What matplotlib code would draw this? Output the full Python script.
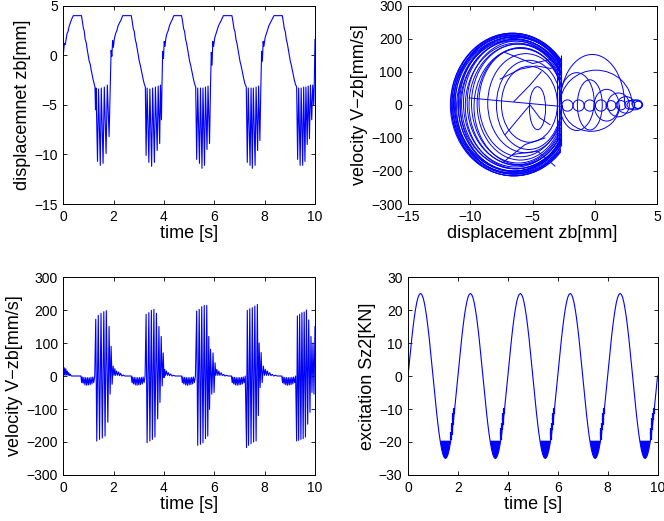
import numpy as np
import matplotlib
matplotlib.use('Agg')
import matplotlib.pyplot as plt
from matplotlib.patches import Ellipse, Arc, Rectangle

plt.rcParams['font.family'] = ['Liberation Sans', 'DejaVu Sans']

# ---------------- data: displacement zb [mm] vs time [s] (vertices) -------------
disp_p1 = [(0.00, 0.0), (0.03, 0.9), (0.05, 1.2), (0.08, 1.1), (0.11, 1.6), (0.15, 2.2), (0.19, 2.4), (0.23, 2.9),
           (0.27, 3.2), (0.31, 3.5), (0.36, 3.8), (0.40, 4.0), (0.72, 4.0), (0.76, 3.4), (0.80, 2.7), (0.83, 2.5),
           (0.87, 1.6), (0.91, 1.3), (0.95, 0.6), (0.99, 0.0), (1.03, -0.6), (1.07, -0.9), (1.11, -1.5), (1.15, -2.0),
           (1.19, -2.5), (1.23, -2.9), (1.26, -3.2), (1.28, -5.5), (1.30, -3.3), (1.36, -10.7), (1.40, -3.4),
           (1.47, -11.1), (1.51, -3.3), (1.58, -10.9), (1.63, -3.2), (1.70, -9.9), (1.75, -3.0), (1.82, -8.2), (1.87, -3.0)]
disp_p2 = [(1.90, 0.5), (1.93, -0.1), (1.96, 1.5), (1.99, 0.8), (2.03, 1.7), (2.08, 2.2), (2.13, 2.5), (2.18, 3.0),
           (2.24, 3.3), (2.30, 3.6), (2.36, 4.0), (2.70, 4.0), (2.74, 3.4), (2.78, 2.7), (2.82, 2.4), (2.86, 1.6),
           (2.90, 1.2), (2.94, 0.6), (2.98, 0.0), (3.02, -0.6), (3.06, -1.0), (3.10, -1.5), (3.14, -2.0), (3.18, -2.5),
           (3.22, -2.9), (3.26, -3.2), (3.29, -10.1), (3.33, -3.3), (3.40, -10.8), (3.44, -3.4), (3.51, -11.2),
           (3.55, -3.3), (3.62, -10.8), (3.66, -3.2), (3.73, -9.6), (3.77, -3.1), (3.83, -8.9), (3.86, -3.0),
           (3.90, -6.5), (3.92, -3.0)]
disp_p3 = [(3.95, 0.4), (3.98, -0.3), (4.01, 1.4), (4.04, 0.9), (4.08, 1.8), (4.12, 2.2), (4.17, 2.5), (4.22, 3.0),
           (4.27, 3.3), (4.33, 3.6), (4.39, 4.0), (4.70, 4.0), (4.74, 3.4), (4.78, 2.7), (4.82, 2.4), (4.86, 1.6),
           (4.90, 1.2), (4.94, 0.6), (4.98, 0.0), (5.02, -0.6), (5.06, -1.0), (5.10, -1.5), (5.14, -2.0), (5.18, -2.5),
           (5.22, -2.9), (5.26, -3.2), (5.30, -10.5), (5.34, -3.3), (5.41, -10.9), (5.45, -3.3), (5.51, -11.4),
           (5.55, -3.3), (5.61, -11.1), (5.65, -3.2), (5.71, -9.5), (5.75, -3.1), (5.81, -8.9), (5.85, -3.0)]
disp_p4 = [(5.88, 0.3), (5.91, -1.0), (5.94, 1.4), (5.97, 0.9), (6.02, 1.8), (6.07, 2.2), (6.12, 2.6), (6.17, 3.0),
           (6.23, 3.3), (6.29, 3.6), (6.36, 4.0), (6.70, 4.0), (6.74, 3.4), (6.78, 2.7), (6.82, 2.4), (6.86, 1.6),
           (6.90, 1.2), (6.94, 0.6), (6.98, 0.0), (7.02, -0.6), (7.06, -1.0), (7.10, -1.5), (7.14, -2.0), (7.18, -2.5),
           (7.22, -2.9), (7.27, -3.2), (7.31, -10.8), (7.35, -3.3), (7.42, -11.1), (7.46, -3.3), (7.51, -11.4),
           (7.55, -3.3), (7.62, -11.1), (7.66, -3.2), (7.72, -9.6), (7.76, -3.1), (7.81, -8.6), (7.85, -3.0)]
disp_p5 = [(7.88, 0.4), (7.91, -0.6), (7.94, 1.4), (7.97, 0.9), (8.02, 1.8), (8.07, 2.2), (8.12, 2.6), (8.17, 3.0),
           (8.23, 3.3), (8.29, 3.6), (8.37, 4.0), (8.70, 4.0), (8.74, 3.4), (8.78, 2.7), (8.82, 2.4), (8.86, 1.6),
           (8.90, 1.2), (8.94, 0.6), (8.98, 0.0), (9.02, -0.6), (9.06, -1.0), (9.10, -1.5), (9.14, -2.0), (9.18, -2.5),
           (9.22, -2.9), (9.27, -3.2), (9.31, -10.5), (9.35, -3.3), (9.41, -11.1), (9.45, -3.3), (9.51, -11.1),
           (9.55, -3.2), (9.60, -10.7), (9.64, -3.2), (9.69, -9.0), (9.73, -3.1), (9.78, -8.4), (9.82, -3.0),
           (9.87, -6.5), (9.91, -3.0), (9.95, -5.0), (9.97, -3.0), (10.0, 1.6)]

# ---------------- data: velocity V-zb [mm/s] vs time [s] ----------------
vel_p1 = [(0.00, 20), (0.02, 5), (0.04, 25), (0.07, 2), (0.10, 22), (0.13, 3), (0.16, 15), (0.19, 2), (0.22, 10),
          (0.25, 1), (0.28, 5), (0.32, 0), (0.70, 0), (0.73, -20), (0.75, -3), (0.79, -22), (0.82, -4), (0.86, -27),
          (0.89, -5), (0.93, -28), (0.96, -5), (1.00, -27), (1.03, -5), (1.07, -26), (1.10, -4), (1.14, -24),
          (1.17, -3), (1.21, -20), (1.25, 0), (1.29, 172), (1.33, -197), (1.39, 184), (1.44, -192), (1.50, 190),
          (1.55, -188), (1.61, 195), (1.66, -182), (1.71, 198), (1.77, -140), (1.82, 150), (1.86, -55), (1.90, 90),
          (1.94, -25), (1.98, 30), (2.02, 2), (2.05, 22), (2.08, 2), (2.12, 15), (2.16, 2), (2.20, 12), (2.24, 1),
          (2.28, 8), (2.33, 0), (2.38, 3), (2.45, 0)]
vel_p2 = [(2.70, 0), (2.73, -20), (2.75, -3), (2.79, -24), (2.82, -4), (2.86, -27), (2.89, -5), (2.93, -28),
          (2.96, -5), (3.00, -27), (3.03, -5), (3.07, -26), (3.10, -4), (3.14, -24), (3.17, -3), (3.21, -20),
          (3.25, 0), (3.29, 187), (3.33, -202), (3.40, 192), (3.44, -197), (3.50, 199), (3.54, -192), (3.60, 202),
          (3.64, -185), (3.70, 190), (3.75, -130), (3.80, 150), (3.84, -80), (3.89, 120), (3.93, -30), (3.97, 70),
          (4.00, -5), (4.03, 20), (4.06, 2), (4.10, 15), (4.14, 2), (4.18, 10), (4.22, 1), (4.27, 6), (4.32, 0),
          (4.38, 2), (4.45, 0)]
vel_p3 = [(4.70, 0), (4.73, -20), (4.75, -3), (4.79, -24), (4.82, -4), (4.86, -27), (4.89, -5), (4.93, -28),
          (4.96, -5), (5.00, -27), (5.03, -5), (5.07, -26), (5.10, -4), (5.14, -24), (5.17, -3), (5.21, -20),
          (5.25, 0), (5.30, 197), (5.34, -210), (5.40, 202), (5.45, -207), (5.50, 210), (5.55, -202), (5.60, 214),
          (5.65, -190), (5.70, 214), (5.74, -182), (5.78, 120), (5.81, -101), (5.85, 81), (5.90, -55), (5.95, 70),
          (5.99, -50), (6.03, 40), (6.06, 2), (6.10, 20), (6.14, 2), (6.18, 15), (6.22, 2), (6.27, 10), (6.32, 1),
          (6.37, 5), (6.42, 0), (6.48, 2), (6.55, 0)]
vel_p4 = [(6.68, 0), (6.71, -20), (6.73, -3), (6.77, -24), (6.80, -4), (6.84, -27), (6.87, -5), (6.91, -28),
          (6.94, -5), (6.98, -27), (7.01, -5), (7.05, -26), (7.08, -4), (7.12, -24), (7.15, -3), (7.19, -20),
          (7.23, 0), (7.28, -217), (7.31, 199), (7.36, -210), (7.41, 204), (7.46, -205), (7.51, 207), (7.56, -200),
          (7.61, 212), (7.66, -197), (7.71, 217), (7.75, -120), (7.78, 100), (7.82, -35), (7.86, 71), (7.90, -20),
          (7.95, 30), (7.99, 2), (8.03, 20), (8.07, 2), (8.11, 15), (8.15, 2), (8.20, 10), (8.25, 1), (8.30, 5),
          (8.36, 0), (8.42, 2), (8.50, 0)]
vel_p5 = [(8.68, 0), (8.71, -20), (8.73, -3), (8.77, -24), (8.80, -4), (8.84, -27), (8.87, -5), (8.91, -28),
          (8.94, -5), (8.98, -27), (9.01, -5), (9.05, -26), (9.08, -4), (9.12, -24), (9.15, -3), (9.19, -20),
          (9.23, 0), (9.27, -197), (9.30, 182), (9.35, -195), (9.39, 187), (9.44, -192), (9.48, 192), (9.53, -190),
          (9.57, 194), (9.62, -185), (9.66, 200), (9.71, -146), (9.75, 170), (9.80, -110), (9.84, 120), (9.88, -50),
          (9.92, 100), (9.96, -55), (10.0, 150)]

# ---------------- data: phase portrait (velocity vs displacement) ----------------
ring_left = [-11.6, -11.55, -11.5, -11.45, -11.4, -11.35, -11.3, -11.25, -11.2, -11.1, -11.0, -10.95,
             -10.85, -10.8, -10.7, -10.55, -10.4, -10.25, -10.1, -9.9, -9.7, -9.45, -9.3, -8.6, -7.9, -7.5]
ring_right = [-1.6, -1.7, -1.5, -1.8, -1.6, -1.9, -1.7, -1.6, -2.0, -1.8, -1.9, -2.1,
              -1.9, -2.2, -2.0, -2.2, -2.1, -2.3, -2.2, -2.4, -2.3, -2.5, -2.6, -2.5, -2.7, -3.0]
ring_cy = [0, 4, -3, 6, -5, 2, 8, -2, 5, -6, 3, 0,
           7, -4, 2, 5, -3, 6, 0, 4, -5, 3, 8, 5, 0, 2]
ring_vmax = [214, 213, 212, 211, 210, 209, 208, 207, 206, 204, 203, 201,
             200, 198, 196, 193, 190, 187, 184, 180, 176, 170, 165, 150, 135, 115]
clamp_x = [-2.75, -2.85, -3.0]
clamp_lo = [-125, -118, -110]
clamp_hi = [150, 140, 130]
chord_x = [[-10.1, -2.6], [-7.3, -5.0, -3.3], [-7.6, -6.0, -4.7, -3.5], [-6.5, -5.2, -4.3],
           [-7.2, -5.2, -4.4, -3.6], [-7.4, -5.6, -4.0], [-6.6, -4.6, -3.2]]
chord_v = [[21, -5], [160, 125, 140], [78, 108, 118, 110], [10, 60, 100],
           [-90, 0, -40, -60], [-175, -120, -100], [-150, -140, -185]]
loop_cx = [-4.6, -2.2, -1.3, -0.4, 0.5, 1.3, 2.1, 2.8, 3.5, 3.4, -1.45, -0.4, 0.95, 1.9, 2.5, 3.2]
loop_cy = [-10, -2, -2, -2, -2, -2, -1, 0, 0, 2, 10, 0, -1, 0, 0, 0]
loop_w = [1.3, 0.9, 0.9, 0.9, 0.9, 0.8, 0.8, 0.8, 0.7, 0.8, 2.8, 2.0, 2.0, 1.75, 1.4, 1.2]
loop_h = [130, 34, 34, 34, 34, 30, 28, 26, 22, 26, 175, 152, 96, 72, 50, 30]
arc_cx = [-0.2, 0.1, -0.3]
arc_w = [5.2, 5.8, 4.6]
arc_h = [305, 210, 160]
arc_t1 = [57, 10, 180]
arc_t2 = [180, 180, 360]

# ---------------- data: excitation Sz2 [kN] (one 2 s cycle at 0.05 s steps, repeated) ----------------
exc_cycle = [0.0, 3.9, 7.7, 11.4, 14.7, 17.7, 20.2, 22.3, 23.8, 24.7, 25.0, 24.7, 23.8, 22.3, 20.2, 17.7,
             14.7, 11.4, 7.7, 3.9, 0.0, -3.9, -7.7, -11.4, -14.7, -17.7, -20.2, -22.3, -23.8, -24.7, -25.0,
             -24.7, -23.8, -22.3, -20.2, -17.7, -14.7, -11.4, -7.7, -3.9]
exc_clip = -19.6
cycle_start = [0, 2, 4, 6, 8]
step_dt = [1.72, 1.745, 1.77, 1.795, 1.82, 1.845]
step_lo = [-19.3, -18.0, -16.5, -14.9, -13.3, -11.6]
step_hi = [-17.0, -15.8, -14.2, -12.8, -11.2, -9.8]

disp_t, disp_v = zip(*(disp_p1 + disp_p2 + disp_p3 + disp_p4 + disp_p5))
vel_t, vel_v = zip(*(vel_p1 + vel_p2 + vel_p3 + vel_p4 + vel_p5))
exc_t = np.arange(0, 10.001, 0.05)
exc_v = np.array(exc_cycle * 5 + [0.0])

BLUE = '#0000ff'
LW = 0.8
TICK_FS = 10
LAB_FS = 13

fig = plt.figure(figsize=(6.64, 5.21), dpi=100)
ax1 = fig.add_axes([0.0953, 0.6084, 0.3791, 0.3806])
ax2 = fig.add_axes([0.6145, 0.6084, 0.3750, 0.3806])
ax3 = fig.add_axes([0.0953, 0.0883, 0.3791, 0.3800])
ax4 = fig.add_axes([0.6145, 0.0883, 0.3758, 0.3800])


def style(ax):
    ax.tick_params(direction='in', top=True, right=True, length=3, width=0.6,
                   labelsize=TICK_FS, pad=4)
    for s in ax.spines.values():
        s.set_linewidth(0.7)


# top-left
ax1.plot(disp_t, disp_v, color=BLUE, lw=LW)
ax1.set_xlim(0, 10)
ax1.set_ylim(-15, 5)
ax1.set_xticks([0, 2, 4, 6, 8, 10])
ax1.set_yticks([-15, -10, -5, 0, 5])
ax1.set_xlabel('time [s]', fontsize=LAB_FS, labelpad=1)
ax1.set_ylabel('displacemnet zb[mm]', fontsize=LAB_FS, labelpad=2)
style(ax1)

# top-right
clip = Rectangle((-15, -300), 12.25, 600, transform=ax2.transData)
for l, r, cy, vm in zip(ring_left, ring_right, ring_cy, ring_vmax):
    e = Ellipse(((l + r) / 2, cy), r - l, 2 * vm, fill=False, edgecolor=BLUE, lw=0.7)
    ax2.add_patch(e)
    e.set_clip_path(clip)
ax2.vlines(clamp_x, clamp_lo, clamp_hi, color=BLUE, lw=LW)
for xs, vs in zip(chord_x, chord_v):
    ax2.plot(xs, vs, color=BLUE, lw=0.7)
for cx, cy, w, h in zip(loop_cx, loop_cy, loop_w, loop_h):
    ax2.add_patch(Ellipse((cx, cy), w, h, fill=False, edgecolor=BLUE, lw=0.7))
for cx, w, h, t1, t2 in zip(arc_cx, arc_w, arc_h, arc_t1, arc_t2):
    ax2.add_patch(Arc((cx, 0), w, h, theta1=t1, theta2=t2, edgecolor=BLUE, lw=0.7))
ax2.set_xlim(-15, 5)
ax2.set_ylim(-300, 300)
ax2.set_xticks([-15, -10, -5, 0, 5])
ax2.set_yticks([-300, -200, -100, 0, 100, 200, 300])
ax2.set_xlabel('displacement zb[mm]', fontsize=LAB_FS, labelpad=1)
ax2.set_ylabel('velocity V\u2212zb[mm/s]', fontsize=LAB_FS, labelpad=2)
style(ax2)

# bottom-left
ax3.plot(vel_t, vel_v, color=BLUE, lw=LW)
ax3.set_xlim(0, 10)
ax3.set_ylim(-300, 300)
ax3.set_xticks([0, 2, 4, 6, 8, 10])
ax3.set_yticks([-300, -200, -100, 0, 100, 200, 300])
ax3.set_xlabel('time [s]', fontsize=LAB_FS, labelpad=1)
ax3.set_ylabel('velocity V\u2212zb[mm/s]', fontsize=LAB_FS, labelpad=2)
style(ax3)

# bottom-right
ax4.plot(exc_t, exc_v, color=BLUE, lw=LW)
ax4.fill_between(exc_t, exc_v, exc_clip, where=exc_v < exc_clip, interpolate=True,
                 color=BLUE, lw=0)
for c in cycle_start:
    ax4.vlines([c + d for d in step_dt], step_lo, step_hi, color=BLUE, lw=1.6)
ax4.set_xlim(0, 10)
ax4.set_ylim(-30, 30)
ax4.set_xticks([0, 2, 4, 6, 8, 10])
ax4.set_yticks([-30, -20, -10, 0, 10, 20, 30])
ax4.set_xlabel('time [s]', fontsize=LAB_FS, labelpad=1)
ax4.set_ylabel('excitation Sz2[KN]', fontsize=LAB_FS, labelpad=2)
style(ax4)

fig.savefig('out.png', dpi=100)
